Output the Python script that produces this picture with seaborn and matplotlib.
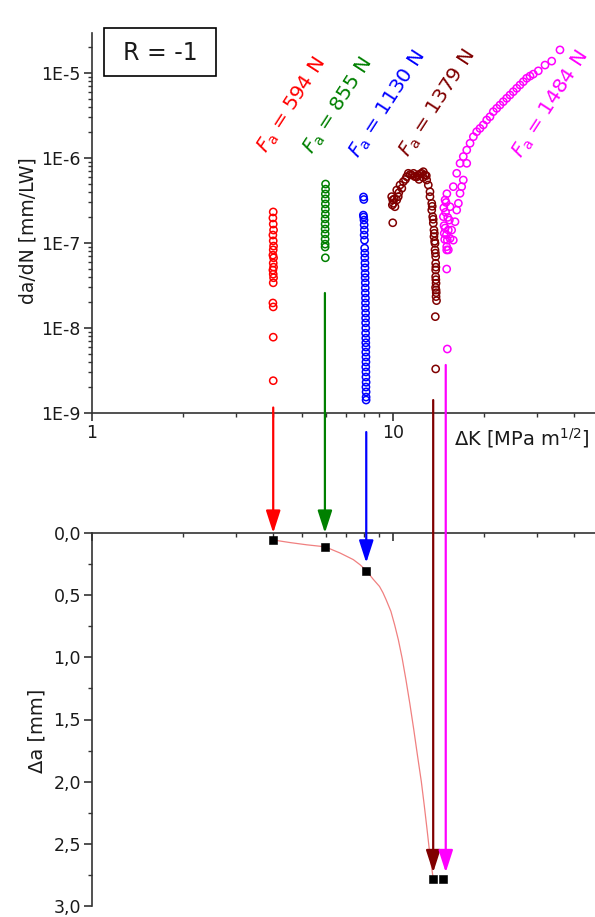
import numpy as np
import pandas as pd
import matplotlib
matplotlib.use("Agg")
import matplotlib.pyplot as plt
import seaborn as sns
from matplotlib.ticker import LogLocator, FixedLocator, FuncFormatter, NullFormatter, MultipleLocator
from matplotlib.patches import Rectangle

# ---------------- data ----------------
forces = [594, 855, 1130, 1379, 1484]
colors = ["#ff0000", "#008000", "#0000ff", "#800000", "#ff00ff"]

red_x = [4.00, 3.99, 4.00, 4.01, 3.99, 4.00, 4.01, 4.00, 3.99, 4.01, 4.00, 4.01, 3.99, 4.00, 4.01, 4.00,
         3.99, 4.00, 4.00, 4.00]
red_y = [2.32e-7, 1.97e-7, 1.67e-7, 1.42e-7, 1.24e-7, 1.06e-7, 9.2e-8, 8.3e-8, 7.2e-8, 6.7e-8, 5.8e-8,
         5.2e-8, 4.8e-8, 4.3e-8, 3.9e-8, 3.4e-8, 1.97e-8, 1.77e-8, 7.8e-9, 2.4e-9]

green_x = [5.97, 5.97, 5.96, 5.96, 5.96, 5.96, 5.96, 5.95, 5.95, 5.95, 5.95, 5.95, 5.95, 5.95, 5.96]
green_y = [4.94e-7, 4.3e-7, 3.77e-7, 3.3e-7, 2.88e-7, 2.51e-7, 2.19e-7, 1.92e-7, 1.67e-7, 1.46e-7,
           1.28e-7, 1.11e-7, 9.7e-8, 8.97e-8, 6.7e-8]

blue_x = [7.98, 8.00, 7.97, 7.99, 8.01, 8.02, 8.03, 8.02, 8.04, 8.05, 8.06, 8.06, 8.07, 8.07, 8.08, 8.08,
          8.09, 8.09, 8.09, 8.10, 8.10, 8.10, 8.11, 8.11, 8.11, 8.12, 8.11, 8.12, 8.12, 8.13, 8.12, 8.13,
          8.13, 8.12, 8.13, 8.13, 8.14, 8.13, 8.14, 8.14, 8.14]
blue_y = [3.48e-7, 3.25e-7, 2.13e-7, 2.02e-7, 1.86e-7, 1.63e-7, 1.42e-7, 1.24e-7, 1.08e-7, 8.7e-8,
          7.6e-8, 6.7e-8, 5.8e-8, 5.1e-8, 4.4e-8, 3.9e-8, 3.4e-8, 2.96e-8, 2.58e-8, 2.25e-8, 1.97e-8,
          1.72e-8, 1.5e-8, 1.31e-8, 1.15e-8, 1.0e-8, 8.7e-9, 7.6e-9, 6.7e-9, 5.97e-9, 5.2e-9, 4.56e-9,
          3.98e-9, 3.48e-9, 3.04e-9, 2.65e-9, 2.3e-9, 2.02e-9, 1.77e-9, 1.54e-9, 1.42e-9]

dred_x = [9.98, 9.90, 10.02, 10.15, 9.98, 10.29, 10.41, 10.29, 10.55, 10.82, 11.10, 11.24, 11.54, 11.83,
          12.13, 12.45, 12.61, 12.77, 12.94, 13.10, 13.27, 13.27, 13.45, 13.45, 13.55, 13.61, 13.68,
          13.68, 13.79, 13.79, 13.86, 13.86, 13.86, 13.86, 13.90, 13.90, 13.90, 13.82, 13.86,
          11.40, 11.70, 12.00, 12.30, 11.00, 10.70, 10.45, 10.10, 9.95, 12.90, 12.60, 12.20,
          13.50, 13.60, 13.72, 13.75, 13.83, 13.88, 13.88, 13.92, 13.95, 13.85]
dred_y = [1.73e-7, 3.51e-7, 2.93e-7, 2.67e-7, 3.21e-7, 3.21e-7, 3.51e-7, 4.2e-7, 4.81e-7, 5.26e-7, 6.03e-7,
          6.61e-7, 6.31e-7, 6.03e-7, 6.31e-7, 6.61e-7, 6.9e-7, 6.31e-7, 5.51e-7, 4.81e-7, 4.01e-7,
          3.51e-7, 2.93e-7, 2.44e-7, 2.04e-7, 1.71e-7, 1.42e-7, 1.19e-7, 9.9e-8, 8.3e-8, 6.9e-8,
          5.77e-8, 4.81e-8, 4.02e-8, 3.36e-8, 2.8e-8, 2.34e-8, 1.36e-8, 3.3e-9,
          6.4e-7, 6.6e-7, 6.0e-7, 6.5e-7, 5.6e-7, 4.4e-7, 3.9e-7, 3.3e-7, 2.8e-7, 6.2e-7, 5.9e-7, 5.6e-7,
          2.7e-7, 1.9e-7, 1.3e-7, 1.05e-7, 7.6e-8, 5.2e-8, 3.7e-8, 2.6e-8, 2.1e-8, 3.0e-8]

mag_x = [15.15, 15.08, 14.89, 14.70, 14.80, 15.08, 15.27, 15.47, 15.86, 15.66, 16.07, 16.28, 16.49,
         16.70, 16.91, 17.12, 17.58, 14.75, 14.78, 14.85, 14.90, 14.95, 15.00, 15.10, 15.20, 15.05,
         15.08, 15.15, 15.27, 15.39, 15.47, 15.86, 16.28, 16.70, 17.12, 17.58, 18.03, 18.49, 18.97,
         19.45, 19.95, 20.48, 21.00, 21.54, 22.11, 22.67, 23.25, 23.86, 24.47, 25.10, 25.76, 26.42,
         27.10, 27.80, 28.52, 29.25, 30.39, 31.99, 33.67, 35.87]
mag_y = [5.66e-9, 4.94e-8, 3.21e-7, 2.04e-7, 1.30e-7, 9.05e-8, 8.3e-8, 1.13e-7, 1.08e-7, 1.42e-7,
         1.78e-7, 2.44e-7, 2.93e-7, 3.84e-7, 4.6e-7, 5.51e-7, 8.66e-7, 2.6e-7, 1.6e-7, 1.1e-7, 1.5e-7,
         2.3e-7, 3.0e-7, 3.8e-7, 2.0e-7, 1.25e-7, 8.28e-8, 1.08e-7, 1.42e-7, 1.86e-7, 2.67e-7, 4.6e-7,
         6.61e-7, 8.66e-7, 1.04e-6, 1.24e-6, 1.49e-6, 1.78e-6, 2.04e-6, 2.23e-6, 2.45e-6, 2.8e-6,
         3.06e-6, 3.51e-6, 3.84e-6, 4.2e-6, 4.6e-6, 5.04e-6, 5.51e-6, 6.03e-6, 6.61e-6, 7.23e-6,
         7.9e-6, 8.67e-6, 9.2e-6, 9.7e-6, 1.06e-5, 1.24e-5, 1.38e-5, 1.87e-5]

# crack extension (lower panel)
da_x = [4.0, 5.95, 8.15, 13.6, 14.7]
da_y = [0.056, 0.111, 0.302, 2.78, 2.78]

# fitted curve
fit_x = [4.0, 4.55, 5.17, 5.95, 6.67, 7.38, 7.77, 8.15, 8.58, 9.02, 9.26, 9.50, 9.84, 10.13, 10.42,
         10.73, 11.04, 11.37, 11.72, 12.06, 12.42, 12.70, 12.97, 13.25, 13.6]
fit_y = [0.056, 0.077, 0.095, 0.111, 0.161, 0.214, 0.255, 0.302, 0.37, 0.43, 0.48, 0.54, 0.63, 0.74,
         0.86, 1.01, 1.18, 1.37, 1.58, 1.79, 2.00, 2.19, 2.38, 2.58, 2.78]

# arrows: x position, start (da/dN scale of upper panel), tip (delta a of lower panel)
arrow_x = [4.0, 5.94, 8.15, 13.6, 14.97]
arrow_start = [1.16e-9, 2.58e-8, 5.97e-10, 1.42e-9, 3.67e-9]
arrow_tip = [0.0, 0.0, 0.24, 2.73, 2.73]

# force labels (centre in upper panel data coords)
label_x = [4.62, 6.56, 9.62, 14.11, 33.5]
label_y = [4.2e-6, 4.1e-6, 4.3e-6, 4.4e-6, 4.2e-6]

y_major = [1e-9, 1e-8, 1e-7, 1e-6, 1e-5]
y_major_labels = ["1E-9", "1E-8", "1E-7", "1E-6", "1E-5"]
da_ticks = [0.0, 0.5, 1.0, 1.5, 2.0, 2.5, 3.0]
da_tick_labels = ["0,0", "0,5", "1,0", "1,5", "2,0", "2,5", "3,0"]

# ---------------- style ----------------
sns.set_theme(style="ticks")
plt.rcParams["font.family"] = ["DejaVu Sans"]
plt.rcParams["mathtext.fontset"] = "dejavusans"
axis_col = "#333333"
txt_col = "#1a1a1a"

W, H = 595, 917
fig = plt.figure(figsize=(W / 100, H / 100), dpi=100)
ax1 = fig.add_axes([92 / W, 1 - 413 / H, 503 / W, 380 / H])
ax2 = fig.add_axes([92 / W, 1 - 906 / H, 503 / W, 373 / H])
fig.patch.set_facecolor("white")

xmax = 10 ** ((595 - 92) / 301)
for ax in (ax1, ax2):
    ax.set_xscale("log")
    ax.set_facecolor("white")
ax1.set_yscale("log")

# ---------------- upper panel ----------------
series = [(red_x, red_y), (green_x, green_y), (blue_x, blue_y), (dred_x, dred_y), (mag_x, mag_y)]
frames = []
for (xs, ys), f in zip(series, forces):
    frames.append(pd.DataFrame({"dK": xs, "dadN": ys, "F": f}))
df = pd.concat(frames, ignore_index=True)

for f, c in zip(forces, colors):
    sub = df[df["F"] == f]
    sns.scatterplot(data=sub, x="dK", y="dadN", ax=ax1, marker="o", s=27, color=c, legend=False)
    coll = ax1.collections[-1]
    coll.set_facecolor("none")
    coll.set_edgecolor(c)
    coll.set_linewidth(1.1)
    coll.set_clip_on(False)

ax1.set_xlim(1, xmax)
ax1.set_ylim(1e-9, 10 ** (-9 + 380 / 85))
ax1.spines["top"].set_visible(False)
ax1.spines["right"].set_visible(False)
for s in ("left", "bottom"):
    ax1.spines[s].set_color(axis_col)
    ax1.spines[s].set_linewidth(1.2)

ax1.yaxis.set_major_locator(FixedLocator(y_major))
ax1.yaxis.set_major_formatter(FuncFormatter(
    lambda v, p: y_major_labels[int(np.argmin([abs(np.log10(t) - np.log10(v)) for t in y_major]))]))
ax1.yaxis.set_minor_locator(LogLocator(base=10, subs=np.arange(2, 10), numticks=20))
ax1.yaxis.set_minor_formatter(NullFormatter())
ax1.xaxis.set_major_locator(LogLocator(base=10, numticks=10))
ax1.xaxis.set_major_formatter(FuncFormatter(lambda v, p: f"{v:g}"))
ax1.xaxis.set_minor_locator(LogLocator(base=10, subs=np.arange(2, 10), numticks=20))
ax1.xaxis.set_minor_formatter(NullFormatter())
ax1.tick_params(axis="both", which="major", direction="out", length=6, width=1.2, color=axis_col,
                labelsize=12.5, labelcolor=txt_col, pad=2)
ax1.tick_params(axis="both", which="minor", direction="out", length=3, width=1.0, color=axis_col)

ax1.set_ylabel("da/dN [mm/LW]", fontsize=13.5, color=txt_col)
ax1.yaxis.set_label_coords(-0.108, 0.48)
ax1.set_xlabel("\u0394K [MPa m$^{1/2}$]", fontsize=14, color=txt_col, ha="left")
ax1.xaxis.set_label_coords((454 - 92) / 503, -0.035)

for lx, ly, f, c in zip(label_x, label_y, forces, colors):
    ax1.text(lx, ly, r"$\mathit{F}_{\mathrm{a}}$ = " + f"{f} N", color=c, fontsize=14.5,
             rotation=57, rotation_mode="anchor", ha="center", va="center")

# R = -1 box
fig.patches.append(Rectangle((104 / W, 1 - 76 / H), 112 / W, 48 / H, transform=fig.transFigure,
                             facecolor="white", edgecolor="black", linewidth=1.2, zorder=5))
fig.text(160 / W, 1 - 53 / H, "R = -1", ha="center", va="center", fontsize=17, color=txt_col, zorder=6)

# ---------------- lower panel ----------------
sns.lineplot(x=fit_x, y=fit_y, ax=ax2, sort=False, estimator=None, color="#f08080", linewidth=0.9)
sns.scatterplot(x=da_x, y=da_y, ax=ax2, marker="s", s=28, color="black", edgecolor="black", legend=False,
                zorder=5)
ax2.collections[-1].set_clip_on(False)

ax2.set_xlim(1, xmax)
ax2.set_ylim(3.0, 0.0)
ax2.spines["bottom"].set_visible(False)
ax2.spines["right"].set_visible(False)
for s in ("left", "top"):
    ax2.spines[s].set_color(axis_col)
    ax2.spines[s].set_linewidth(1.2)
ax2.xaxis.tick_top()
ax2.xaxis.set_major_locator(LogLocator(base=10, numticks=10))
ax2.xaxis.set_minor_locator(LogLocator(base=10, subs=np.arange(2, 10), numticks=20))
ax2.xaxis.set_major_formatter(NullFormatter())
ax2.xaxis.set_minor_formatter(NullFormatter())
ax2.yaxis.set_major_locator(FixedLocator(da_ticks))
ax2.yaxis.set_major_formatter(FuncFormatter(lambda v, p: da_tick_labels[int(round(v / 0.5))]))
ax2.yaxis.set_minor_locator(MultipleLocator(0.25))
ax2.tick_params(axis="x", which="major", direction="in", length=6, width=1.2, color=axis_col)
ax2.tick_params(axis="x", which="minor", direction="in", length=3, width=1.0, color=axis_col)
ax2.tick_params(axis="y", which="major", direction="out", length=6, width=1.2, color=axis_col,
                labelsize=12.5, labelcolor=txt_col, pad=2)
ax2.tick_params(axis="y", which="minor", direction="out", length=3, width=1.0, color=axis_col)
ax2.set_xlabel("")
ax2.set_ylabel("\u0394a [mm]", fontsize=14, color=txt_col)
ax2.yaxis.set_label_coords(-0.090, 0.47)

# ---------------- arrows ----------------
for xa, ys, yt, c in zip(arrow_x, arrow_start, arrow_tip, colors):
    ax2.annotate("", xy=(xa, yt), xycoords="data", xytext=(xa, ys), textcoords=ax1.transData,
                 annotation_clip=False,
                 arrowprops=dict(arrowstyle="-|>,head_length=0.68,head_width=0.22", color=c, lw=1.6,
                                 shrinkA=0, shrinkB=0, mutation_scale=20, clip_on=False))

fig.savefig("out.png", dpi=100, facecolor="white")
